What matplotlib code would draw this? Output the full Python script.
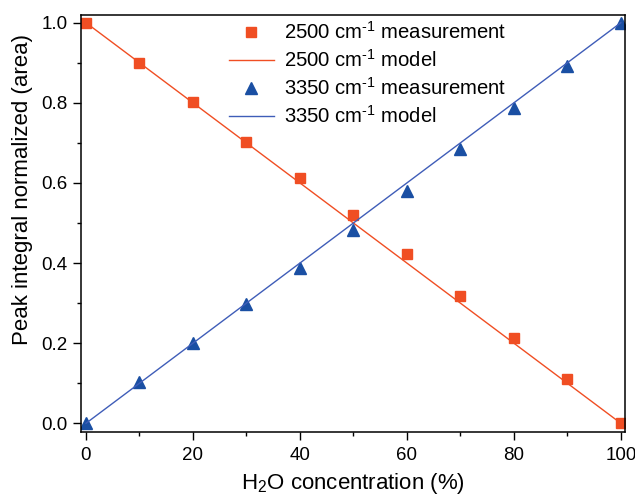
import numpy as np
import matplotlib as mpl
mpl.use('Agg')
import matplotlib.pyplot as plt
from matplotlib.ticker import MultipleLocator

plt.rcParams['font.family'] = ['Liberation Sans', 'DejaVu Sans']
plt.rcParams['mathtext.fontset'] = 'custom'
plt.rcParams['mathtext.rm'] = 'Liberation Sans'
plt.rcParams['mathtext.it'] = 'Liberation Sans'

# H2O concentration (%)
conc = [0, 10, 20, 30, 40, 50, 60, 70, 80, 90, 100]
# measured normalized peak areas
meas_2500 = [1.0, 0.900, 0.803, 0.703, 0.613, 0.520, 0.422, 0.319, 0.214, 0.110, 0.0]
meas_3350 = [0.0, 0.102, 0.200, 0.297, 0.388, 0.483, 0.580, 0.684, 0.787, 0.892, 1.0]
# linear model
model_x = [0, 100]
model_2500 = [1.0, 0.0]
model_3350 = [0.0, 1.0]

orange = '#F04E23'
blue_m = '#1A4FA3'
blue_l = '#3F5DB8'

fig = plt.figure(figsize=(6.35, 4.97), dpi=100)
ax = fig.add_axes([0.1276, 0.1314, 0.8564, 0.8390])

ax.plot(conc, meas_2500, 's', color=orange, markersize=6.5, label=r'2500 cm$^{\text{-1}}$ measurement')
ax.plot(model_x, model_2500, '-', color=orange, lw=1, label=r'2500 cm$^{\text{-1}}$ model')
ax.plot(conc, meas_3350, '^', color=blue_m, markersize=8, label=r'3350 cm$^{\text{-1}}$ measurement')
ax.plot(model_x, model_3350, '-', color=blue_l, lw=1, label=r'3350 cm$^{\text{-1}}$ model')

ax.set_xlim(-0.93, 100.75)
ax.set_ylim(-0.021, 1.02)
ax.xaxis.set_major_locator(MultipleLocator(20))
ax.xaxis.set_minor_locator(MultipleLocator(10))
ax.yaxis.set_major_locator(MultipleLocator(0.2))
ax.yaxis.set_minor_locator(MultipleLocator(0.1))
ax.yaxis.set_major_formatter(mpl.ticker.FormatStrFormatter('%.1f'))
ax.tick_params(which='major', direction='out', length=5.5, width=1, labelsize=13.5)
ax.tick_params(which='minor', direction='out', length=3, width=1)
ax.tick_params(axis='x', which='major', pad=5.5)
ax.tick_params(axis='y', which='major', pad=4)
for s in ax.spines.values():
    s.set_linewidth(1.1)

ax.set_xlabel('H$_2$O concentration (%)', fontsize=16, labelpad=5)
ax.set_ylabel('Peak integral normalized (area)', fontsize=16)
ax.yaxis.set_label_coords(-0.088, 0.58)

ax.legend(loc='upper center', bbox_to_anchor=(0.527, 1.0), frameon=False, fontsize=14.6,
          handlelength=2.2, labelspacing=0.3, handletextpad=0.5,
          borderaxespad=0.1, borderpad=0.2)

plt.savefig('out.png', dpi=100)
